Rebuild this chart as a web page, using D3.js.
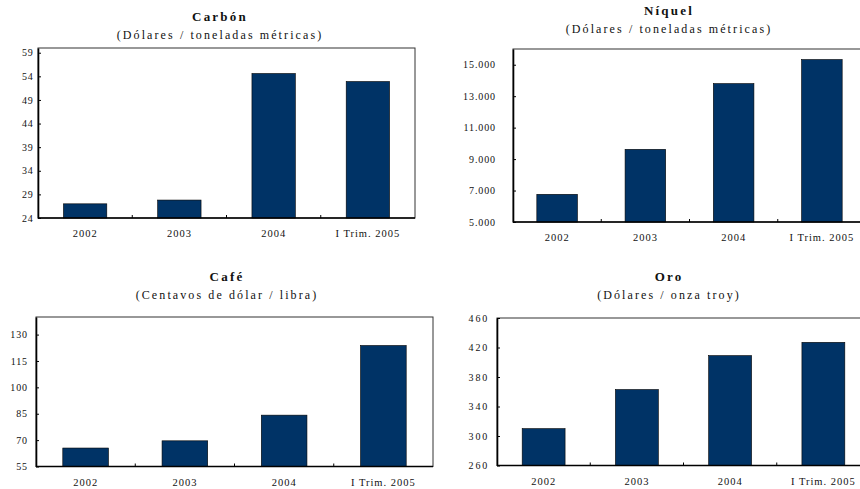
<!DOCTYPE html>
<html>
<head>
<meta charset="utf-8">
<script src="https://cdn.jsdelivr.net/npm/d3@7"></script>
<style>
  html, body { margin: 0; padding: 0; background: #fff; }
  svg { display: block; }
  svg text { font-family: "Liberation Serif", "Times New Roman", "DejaVu Serif", serif; fill: #111; }
</style>
</head>
<body>
<svg id="chart" width="860" height="489"></svg>
<script>
// Shared categories
const categories = ["2002", "2003", "2004", "I Trim. 2005"];

// Price series per commodity
const carbonValues = [27.0, 27.8, 54.6, 52.9];
const niquelValues = [6760, 9620, 13800, 15330];
const cafeValues   = [65.5, 69.6, 84.2, 123.8];
const oroValues    = [310, 363, 409, 427];

// Axis tick values
const carbonTicks = [24, 29, 34, 39, 44, 49, 54, 59];
const niquelTicks = [5000, 7000, 9000, 11000, 13000, 15000];
const cafeTicks   = [55, 70, 85, 100, 115, 130];
const oroTicks    = [260, 300, 340, 380, 420, 460];

// Titles and units
const titles    = ["Carbón", "Níquel", "Café", "Oro"];
const subtitles = ["(Dólares / toneladas métricas)", "(Dólares / toneladas métricas)",
                   "(Centavos de dólar / libra)", "(Dólares / onza troy)"];

const barColor = "#003366";
const serif = "'Liberation Serif', 'Times New Roman', serif";
const svg = d3.select("#chart");
const fmtThousands = d3.formatLocale({ decimal: ",", thousands: ".", grouping: [3], currency: ["", ""] }).format(",.0f");

const panels = [
  { title: titles[0], subtitle: subtitles[0], values: carbonValues, ticks: carbonTicks, domain: [24, 60],
    box: { left: 38, top: 48, right: 415, bottom: 218 }, titleX: 220, titleY: 21,
    fmt: d3.format("d"), pad: 4.5, ls: 0.8 },
  { title: titles[1], subtitle: subtitles[1], values: niquelValues, ticks: niquelTicks, domain: [5000, 16000],
    box: { left: 513, top: 49, right: 866, bottom: 222 }, titleX: 669, titleY: 15,
    fmt: fmtThousands, pad: 17, ls: 0.9 },
  { title: titles[2], subtitle: subtitles[2], values: cafeValues, ticks: cafeTicks, domain: [55, 140],
    box: { left: 36, top: 317, right: 433, bottom: 466.5 }, titleX: 227, titleY: 281,
    fmt: d3.format("d"), pad: 8, ls: 0.9 },
  { title: titles[3], subtitle: subtitles[3], values: oroValues, ticks: oroTicks, domain: [260, 460],
    box: { left: 497, top: 318, right: 870, bottom: 465.5 }, titleX: 669, titleY: 281,
    fmt: d3.format("d"), pad: 8, ls: 1.8 }
];

panels.forEach(p => {
  const b = p.box;
  const g = svg.append("g");

  const x = d3.scaleBand().domain(categories).range([b.left, b.right])
    .paddingInner(0.54).paddingOuter(0.27);
  const y = d3.scaleLinear().domain(p.domain).range([b.bottom, b.top]);

  // Titles
  g.append("text").attr("x", p.titleX).attr("y", p.titleY)
    .attr("text-anchor", "middle").style("font-family", serif).attr("font-size", 13)
    .attr("font-weight", "bold").attr("letter-spacing", 2.2).text(p.title);
  g.append("text").attr("x", p.titleX).attr("y", p.titleY + 18)
    .attr("text-anchor", "middle").style("font-family", serif).attr("font-size", 12)
    .attr("letter-spacing", 2.1).text(p.subtitle);

  // Plot frame (top and right edges)
  g.append("rect").attr("x", b.left).attr("y", b.top)
    .attr("width", b.right - b.left).attr("height", b.bottom - b.top)
    .attr("fill", "none").attr("stroke", "#333").attr("stroke-width", 1);

  // Bars
  g.selectAll("rect.bar").data(p.values).join("rect").attr("class", "bar")
    .attr("x", (d, i) => x(categories[i]))
    .attr("y", d => y(d))
    .attr("width", x.bandwidth())
    .attr("height", d => y(p.domain[0]) - y(d))
    .attr("fill", barColor).attr("stroke", "#000").attr("stroke-width", 0.6);

  // Y axis: ticks pointing inward
  const yAxis = d3.axisLeft(y).tickValues(p.ticks).tickFormat(p.fmt)
    .tickSizeInner(-3).tickSizeOuter(0).tickPadding(p.pad);
  const ya = g.append("g").attr("transform", `translate(${b.left},0)`).call(yAxis);
  ya.select(".domain").attr("stroke", "#000").attr("stroke-width", 1.6);
  ya.selectAll(".tick line").attr("stroke", "#000").attr("stroke-width", 1);
  ya.selectAll(".tick text").style("font-family", serif)
    .attr("font-size", 10).attr("letter-spacing", p.ls).attr("fill", "#111");

  // X axis line with inward marks at category boundaries
  g.append("line").attr("x1", b.left).attr("x2", b.right)
    .attr("y1", b.bottom).attr("y2", b.bottom)
    .attr("stroke", "#000").attr("stroke-width", 1.6);
  const step = x.step();
  g.selectAll("line.sep").data(categories.slice(1)).join("line").attr("class", "sep")
    .attr("x1", d => x(d) - step * 0.27).attr("x2", d => x(d) - step * 0.27)
    .attr("y1", b.bottom).attr("y2", b.bottom - 3)
    .attr("stroke", "#000").attr("stroke-width", 1);

  // Category labels
  g.selectAll("text.cat").data(categories).join("text").attr("class", "cat")
    .attr("x", d => x(d) + x.bandwidth() / 2)
    .attr("y", b.bottom + 19)
    .attr("text-anchor", "middle").style("font-family", serif)
    .attr("font-size", 10.5).attr("letter-spacing", 1.0)
    .text(d => d);
});
</script>
</body>
</html>
